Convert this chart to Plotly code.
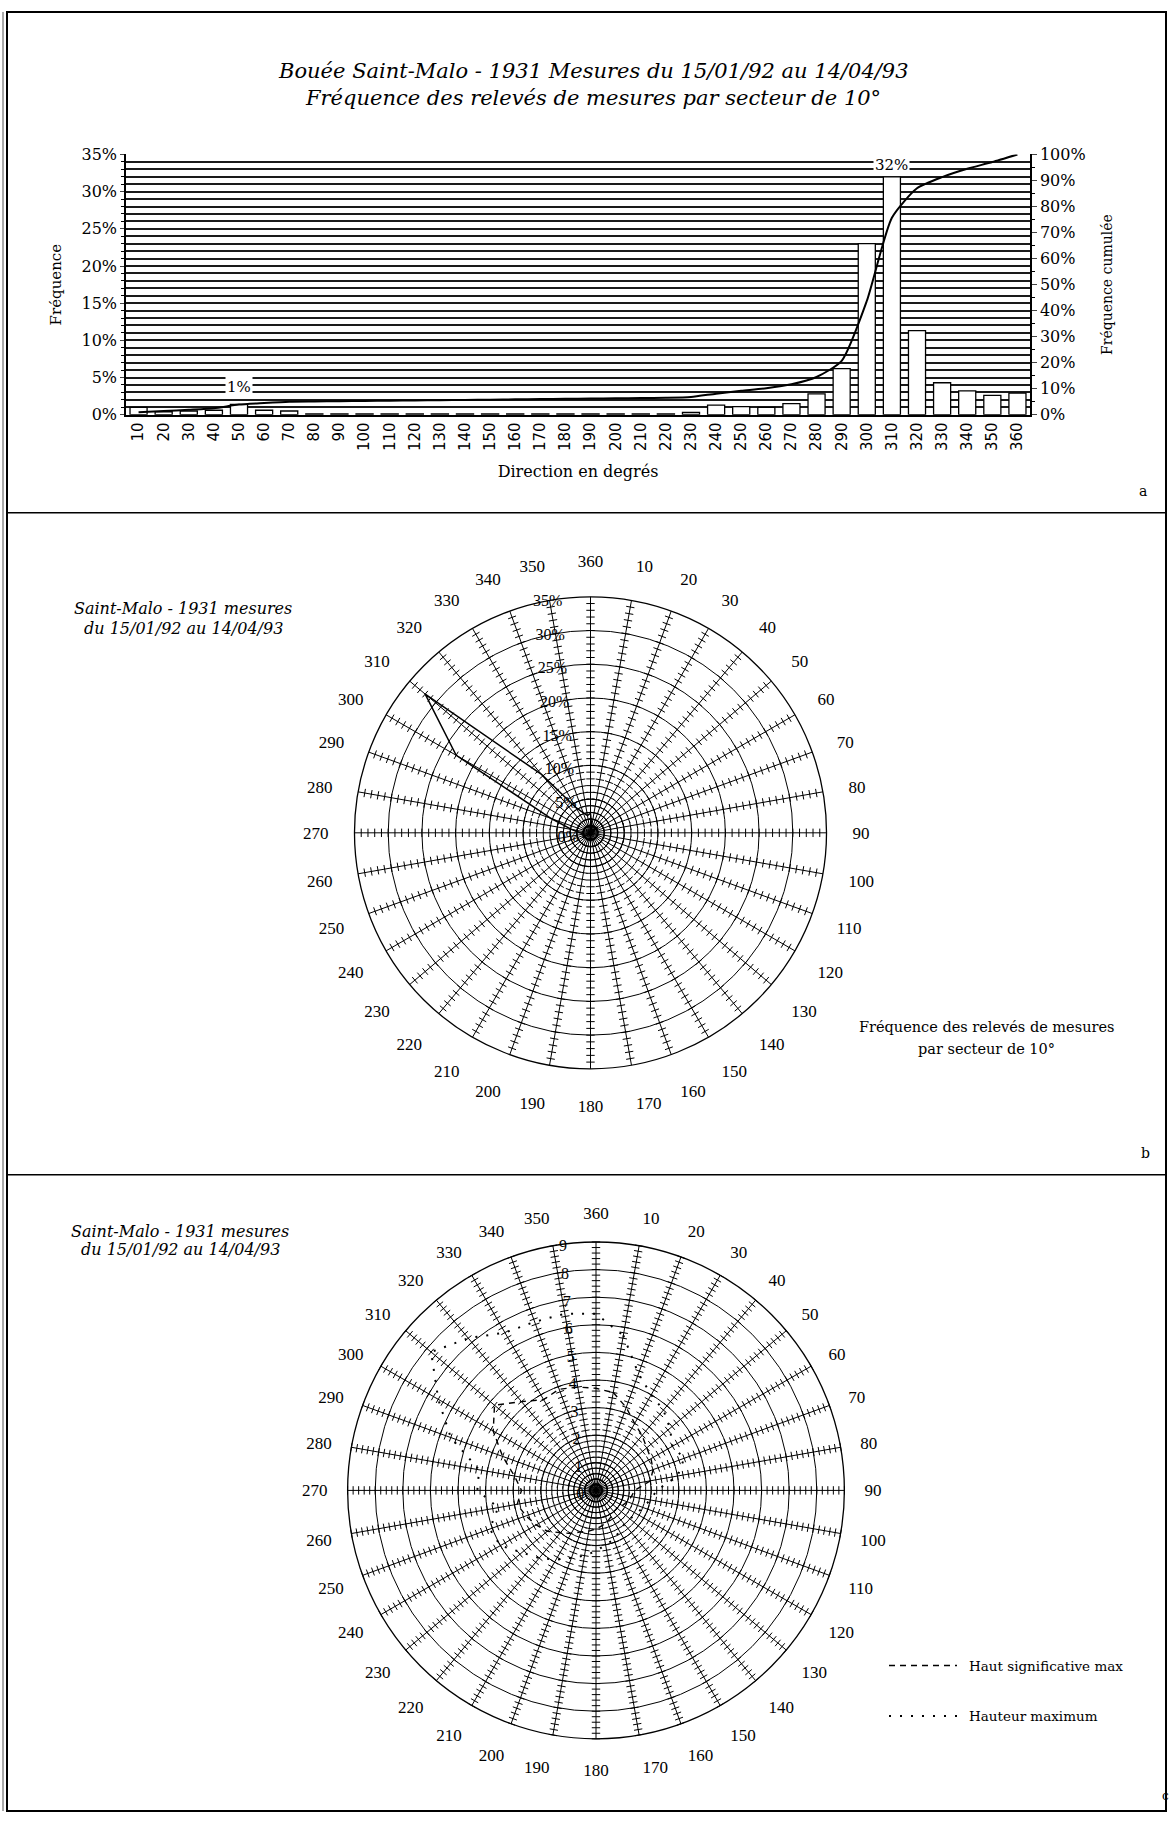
import numpy as np
import plotly.graph_objects as go

W, H = 1172, 1823

# Sector directions (degrees) and measurement statistics per 10° sector
directions = [10, 20, 30, 40, 50, 60, 70, 80, 90, 100, 110, 120, 130, 140, 150, 160, 170, 180,
              190, 200, 210, 220, 230, 240, 250, 260, 270, 280, 290, 300, 310, 320, 330, 340, 350, 360]

# Frequency of records per sector (%)
frequency_pct = [1.0, 0.4, 0.5, 0.6, 1.4, 0.6, 0.5, 0.1, 0.1, 0.1, 0.1, 0.1, 0.1, 0.1, 0.1, 0.1, 0.1, 0.1,
                 0.1, 0.1, 0.1, 0.1, 0.3, 1.3, 1.1, 1.0, 1.5, 2.8, 6.2, 23.0, 32.0, 11.3, 4.3, 3.2, 2.6, 2.9]

# Maximum significant wave height per sector (m)
hs_max = [3.6, 3.2, 2.8, 2.6, 2.4, 2.3, 2.2, 2.0, 1.4, 1.3, 1.2, 1.1, 1.0, 1.0, 1.1, 1.2, 1.3, 1.4,
          1.5, 1.6, 1.8, 2.0, 2.3, 2.5, 2.7, 2.9, 2.7, 3.0, 3.6, 4.3, 4.8, 4.2, 3.8, 3.9, 3.8, 3.7]

# Maximum wave height per sector (m)
h_max = [5.7, 4.5, 4.0, 3.8, 3.5, 3.2, 3.4, 3.0, 2.2, 2.0, 1.8, 1.7, 1.6, 1.6, 1.7, 1.9, 2.0, 2.2,
         2.4, 2.6, 2.9, 3.2, 3.5, 4.0, 4.1, 3.6, 4.3, 4.3, 5.6, 6.6, 7.8, 7.2, 6.6, 6.5, 6.5, 6.4]

direction_labels = [str(d) for d in directions]

SERIF = "Liberation Serif"
WIDE = "DejaVu Serif"
SANS = "DejaVu Sans"


def px(x):
    return x / W


def py(y):
    return 1 - y / H


freq = np.array(frequency_pct) / 100.0
cumulative = np.cumsum(freq)

fig = go.Figure()

# ---------------- Panel a: histogram + cumulative frequency ----------------
fig.add_trace(go.Bar(
    x=directions, y=freq, width=6.8,
    marker=dict(color="white", line=dict(color="black", width=1.3)),
    xaxis="x", yaxis="y", hoverinfo="skip"))

fig.add_trace(go.Scatter(
    x=directions, y=cumulative, mode="lines",
    line=dict(color="black", width=2, shape="spline", smoothing=0.6),
    xaxis="x", yaxis="y2", hoverinfo="skip"))

# data labels for the smallest-labelled and the dominant sector
for d in (50, 310):
    v = freq[directions.index(d)]
    fig.add_annotation(x=d, y=v, xref="x", yref="y", text=f"{v * 100:.0f}%",
                       showarrow=False, yanchor="bottom", yshift=6 if d == 50 else 1,
                       bgcolor="white", font=dict(family=WIDE, size=15, color="black"))

# ---------------- Panel b: frequency rose ----------------
theta_closed = directions + directions[:1]
fig.add_trace(go.Scatterpolar(
    r=list(freq) + [freq[0]], theta=theta_closed, mode="lines",
    line=dict(color="black", width=1.5), subplot="polar", hoverinfo="skip"))

# ---------------- Panel c: wave heights rose ----------------
fig.add_trace(go.Scatterpolar(
    r=hs_max + hs_max[:1], theta=theta_closed, mode="lines",
    line=dict(color="black", width=1.4, dash="6px,5px"), subplot="polar2", hoverinfo="skip"))
fig.add_trace(go.Scatterpolar(
    r=h_max + h_max[:1], theta=theta_closed, mode="lines",
    line=dict(color="black", width=2, dash="2px,9px"), subplot="polar2", hoverinfo="skip"))


# graduation marks across every spoke of a rose
def spoke_ticks(step, rmax, subplot):
    rr = np.arange(step, rmax + step / 2, step)
    th, rg = np.meshgrid(directions, rr)
    fig.add_trace(go.Scatterpolar(
        r=rg.ravel(), theta=th.ravel(), mode="markers", subplot=subplot, hoverinfo="skip",
        marker=dict(symbol="line-ew", size=6, angle=th.ravel(),
                    line=dict(color="black", width=1))))


spoke_ticks(0.01, 0.35, "polar")
spoke_ticks(0.2, 9.0, "polar2")

# ---------------- Axes ----------------
axis_font = dict(family=WIDE, size=16, color="black")

fig.update_layout(
    width=W, height=H, margin=dict(l=0, r=0, t=0, b=0),
    paper_bgcolor="white", plot_bgcolor="white", showlegend=False,
    xaxis=dict(domain=[px(126), px(1030)], range=[5, 365], tickmode="array",
               tickvals=directions, ticktext=direction_labels, tickangle=-90,
               tickfont=dict(family=SANS, size=15, color="black"), showgrid=False,
               showline=True, linecolor="black", linewidth=1.5, ticks="", anchor="y",
               title=dict(text="Direction en degrés", font=dict(family=WIDE, size=16, color="black"),
                          standoff=16)),
    yaxis=dict(domain=[py(410), py(147)], range=[0, 0.35], dtick=0.05, tickformat=".0%",
               tickfont=axis_font, showgrid=True, gridcolor="#1a1a1a", gridwidth=1.6,
               minor=dict(dtick=0.01, showgrid=True, gridcolor="#1a1a1a", gridwidth=1.6,
                          ticks="outside", ticklen=3, tickcolor="black"),
               showline=True, linecolor="black", linewidth=1.5, ticks="outside", ticklen=4,
               zeroline=False, anchor="x",
               title=dict(text="Fréquence", font=dict(family=WIDE, size=15, color="black"),
                          standoff=16)),
    yaxis2=dict(domain=[py(410), py(147)], range=[0, 1.0], dtick=0.1, tickformat=".0%",
                overlaying="y", side="right", anchor="x", tickfont=axis_font, showgrid=False,
                showline=True, linecolor="black", linewidth=1.5, ticks="outside", ticklen=5,
                minor=dict(dtick=0.05, ticks="outside", ticklen=3, tickcolor="black"),
                zeroline=False,
                title=dict(text="Fréquence cumulée", font=dict(family=WIDE, size=14, color="black"),
                           standoff=18)),
)


def angular(ticklen):
    return dict(rotation=90, direction="clockwise", tickmode="array",
                tickvals=directions, ticktext=direction_labels,
                tickfont=dict(family=SERIF, size=17, color="black"),
                showgrid=True, gridcolor="black", gridwidth=1.1,
                showline=True, linecolor="black", linewidth=1.3,
                ticks="outside", ticklen=ticklen, tickcolor="rgba(0,0,0,0)")


fig.update_layout(
    polar=dict(
        domain=dict(x=[px(352), px(829)], y=[py(1071), py(594)]),
        bgcolor="white",
        radialaxis=dict(range=[0, 0.35], dtick=0.05, tickformat=".0%", angle=94, tickangle=94,
                        side="counterclockwise",
                        showline=False, ticks="", gridcolor="black", gridwidth=1.2,
                        tickfont=dict(family=SERIF, size=16, color="black")),
        angularaxis=angular(22)),
    polar2=dict(
        domain=dict(x=[px(345), px(847)], y=[py(1748), py(1246)]),
        bgcolor="white",
        radialaxis=dict(range=[0, 9], dtick=1, angle=94, tickangle=94,
                        side="counterclockwise",
                        showline=False, ticks="", gridcolor="black", gridwidth=1.2,
                        tickfont=dict(family=SERIF, size=16, color="black")),
        angularaxis=angular(16)),
)

# ---------------- Frame and texts ----------------
shapes = [
    dict(type="rect", xref="paper", yref="paper", x0=px(7), x1=px(1166), y0=py(1821), y1=py(3),
         line=dict(color="black", width=2)),
    dict(type="line", xref="paper", yref="paper", x0=px(3), x1=px(3), y0=py(1821), y1=py(3),
         line=dict(color="#555", width=1)),
    dict(type="line", xref="paper", yref="paper", x0=px(7), x1=px(1166), y0=py(509), y1=py(509),
         line=dict(color="black", width=1.5)),
    dict(type="line", xref="paper", yref="paper", x0=px(7), x1=px(1166), y0=py(1178), y1=py(1178),
         line=dict(color="black", width=1.5)),
    # legend samples of panel c
    dict(type="line", xref="paper", yref="paper", x0=px(889), x1=px(957), y0=py(1674), y1=py(1674),
         line=dict(color="black", width=1.5, dash="6px,5px")),
    dict(type="line", xref="paper", yref="paper", x0=px(889), x1=px(957), y0=py(1725), y1=py(1725),
         line=dict(color="black", width=2, dash="2px,9px")),
]
fig.update_layout(shapes=shapes)


def text(x, y, s, size=15, italic=False, xanchor="center", family=WIDE):
    fig.add_annotation(x=px(x), y=py(y), xref="paper", yref="paper", showarrow=False,
                       text=f"<i>{s}</i>" if italic else s, xanchor=xanchor, yanchor="middle",
                       font=dict(family=family, size=size, color="black"))


text(593, 63, "Bouée Saint-Malo - 1931 Mesures du 15/01/92 au 14/04/93", size=21, italic=True)
text(593, 90, "Fréquence des relevés de mesures par secteur de 10°", size=21, italic=True)
text(1143, 487, "a", size=14)

text(183, 606, "Saint-Malo - 1931 mesures", size=16, italic=True)
text(183, 626, "du 15/01/92 au 14/04/93", size=16, italic=True)
text(986, 1029, "Fréquence des relevés de mesures", size=14.5)
text(986, 1051, "par secteur de 10°", size=14.5)
text(1145, 1156, "b", size=14)

text(180, 1235, "Saint-Malo - 1931 mesures", size=16, italic=True)
text(180, 1254, "du 15/01/92 au 14/04/93", size=16, italic=True)
text(967, 1674, "Haut significative max", size=13.5, xanchor="left")
text(967, 1725, "Hauteur maximum", size=13.5, xanchor="left")
text(1165, 1806, "c", size=12)

fig.write_html("out.html")
